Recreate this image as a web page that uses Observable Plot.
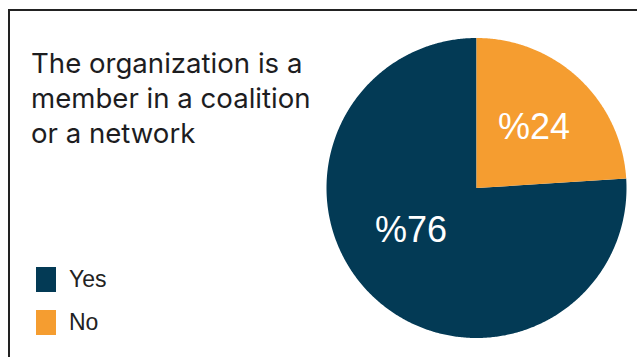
<!DOCTYPE html>
<html>
<head>
<meta charset="utf-8">
<script src="https://cdn.jsdelivr.net/npm/d3@7"></script>
<script src="https://cdn.jsdelivr.net/npm/@observablehq/plot@0.6"></script>
<style>
  html, body { margin: 0; padding: 0; background: #fff; }
  #wrap { position: relative; width: 637px; height: 357px; overflow: hidden; }
  #frame { position: absolute; left: 8px; top: 9px; width: 629px; height: 348px;
           border-top: 2px solid #222; border-left: 2px solid #222; box-sizing: border-box; }
  #title { position: absolute; left: 31px; top: 46px; font-family: Inter, sans-serif;
           font-size: 27.6px; line-height: 35px; color: #1d1d1f; }
  .leg { position: absolute; left: 36px; font-family: "Liberation Sans", Arial, sans-serif;
         font-size: 23px; color: #222; }
  .leg span.sw { position: absolute; left: 0; top: 0; width: 20px; height: 25px; }
  .leg span.tx { position: absolute; left: 33px; top: -1px; white-space: nowrap; }
  #chart { position: absolute; left: 0; top: 0; }
</style>
</head>
<body>
<div id="wrap">
  <div id="chart"></div>
  <div id="frame"></div>
  <div id="title"></div>
  <div id="legend"></div>
</div>
<script>
const title = ["The organization is a", "member in a coalition", "or a network"];
const categories = ["Yes", "No"];
const values = [76, 24];
const labels = ["%76", "%24"];
const colors = ["#033a55", "#f59d30"];

const total = d3.sum(values);
const start = -2 * Math.PI * values[0] / total;
const pie = d3.pie().sort(null).startAngle(start).endAngle(start + 2 * Math.PI);
const arcs = pie(values);

const pts = [];
arcs.forEach((a, i) => {
  pts.push({cat: categories[i], x: 0, y: 0});
  const n = Math.max(2, Math.ceil((a.endAngle - a.startAngle) / (Math.PI / 360)));
  for (let k = 0; k <= n; k++) {
    const t = a.startAngle + (a.endAngle - a.startAngle) * k / n;
    pts.push({cat: categories[i], x: Math.sin(t), y: Math.cos(t)});
  }
});

const lbl = arcs.map((a, i) => {
  const m = (a.startAngle + a.endAngle) / 2;
  const r = 0.55;
  return {label: labels[i], x: r * Math.sin(m), y: r * Math.cos(m), big: i === 0};
});

const textOpts = {x: "x", y: "y", text: "label", fill: "white", fontSize: 36,
  fontFamily: "Liberation Sans, Arial, sans-serif"};

const plot = Plot.plot({
  width: 637,
  height: 357,
  marginLeft: 326,
  marginRight: 11,
  marginTop: 37.5,
  marginBottom: 19.5,
  x: {domain: [-1, 1], axis: null},
  y: {domain: [-1, 1], axis: null},
  color: {domain: categories, range: colors},
  marks: [
    Plot.line(pts, {x: "x", y: "y", z: "cat", fill: "cat", stroke: "none", curve: "linear"}),
    Plot.text(lbl.filter(d => !d.big), {...textOpts, dx: 1, dy: 0}),
    Plot.text(lbl.filter(d => d.big), {...textOpts, dx: -9, dy: -18})
  ]
});
document.getElementById("chart").appendChild(plot);

document.getElementById("title").innerHTML = title.join("<br>");
const leg = document.getElementById("legend");
categories.forEach((c, i) => {
  const d = document.createElement("div");
  d.className = "leg";
  d.style.top = (267 + i * 43) + "px";
  d.innerHTML = `<span class="sw" style="background:${colors[i]}"></span><span class="tx">${c}</span>`;
  leg.appendChild(d);
});
</script>
</body>
</html>
